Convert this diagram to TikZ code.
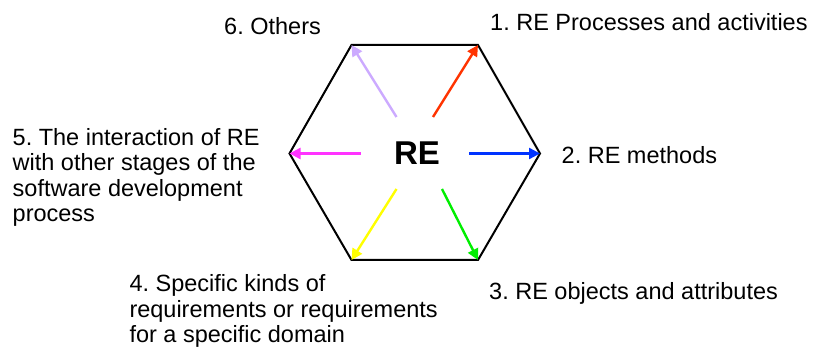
\documentclass[tikz,border=0pt]{standalone}
\usepackage{fontspec}
\setmainfont{Liberation Sans}
\usetikzlibrary{arrows.meta}
\frenchspacing
\definecolor{cred}{HTML}{FF3300}
\definecolor{cblue}{HTML}{0033FF}
\definecolor{cgreen}{HTML}{00EE00}
\definecolor{cyellow}{HTML}{FFFF00}
\definecolor{cmag}{HTML}{FF33FF}
\definecolor{clav}{HTML}{CCAAFF}
\tikzset{
  lbl/.style={inner sep=0pt, anchor=base west, font=\fontsize{23.5}{25.5}\selectfont\frenchspacing, align=left},
  ray/.style={line width=2.4pt, -{Triangle[length=11pt,width=11pt]}},
  hexline/.style={line width=2pt, line join=miter}
}
\begin{document}
\begin{tikzpicture}[x=1pt,y=-1pt]
\useasboundingbox (0,0) rectangle (814,352);
% hexagon vertices
\coordinate (vtl) at (351.5,45);
\coordinate (vtr) at (478,45);
\coordinate (vr) at (540,153.5);
\coordinate (vbr) at (478,260);
\coordinate (vbl) at (351.5,260);
\coordinate (vl) at (289.5,153.5);
\draw[hexline] (vtl) -- (vtr) -- (vr) -- (vbr) -- (vbl) -- (vl) -- cycle;
% centre text
\node[inner sep=0pt, font=\fontsize{33}{33}\selectfont\bfseries] (re) at (417,153.5) {RE};
% arrow starts
\coordinate (sred) at (433,117);
\coordinate (slav) at (396.5,117);
\coordinate (smag) at (360.5,153.5);
\coordinate (sblue) at (469,153.5);
\coordinate (syel) at (396.5,189);
\coordinate (sgreen) at (442,189);
\draw[ray, cred] (sred) -- (vtr);
\draw[ray, clav] (slav) -- (vtl);
\draw[ray, cmag] (smag) -- (vl);
\draw[ray, cblue] (sblue) -- (vr);
\draw[ray, cyellow] (syel) -- (vbl);
\draw[ray, cgreen] (sgreen) -- (vbr);
% labels
\node[lbl] (l1) at (490,30.7) {1. RE Processes and activities};
\node[lbl] (l2) at (561.5,164) {2. RE methods};
\node[lbl] (l3) at (489,299.3) {3. RE objects and attributes};
\node[lbl] (l4) at (129.3,342.7) {4. Specific kinds of\\requirements or requirements\\for a specific domain};
\node[lbl] (l5) at (12.5,221.7) {5. The interaction of RE\\with other stages of the\\software development\\process};
\node[lbl] (l6) at (224,35) {6. Others};
\end{tikzpicture}
\end{document}
